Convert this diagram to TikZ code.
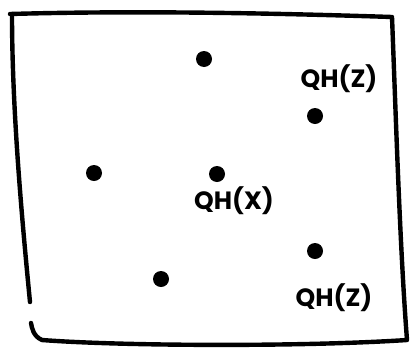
\documentclass[tikz,border=0pt]{standalone}
\usepackage{fontspec}
\setsansfont{Poppins}
\usetikzlibrary{positioning}

\begin{document}
\begin{tikzpicture}[
      x=1pt, y=-1pt,
      pt/.style={circle, fill=black, inner sep=0pt, minimum size=16pt},
      lbl/.style={font=\sffamily\bfseries\fontsize{25}{25}\selectfont, inner sep=0pt},
      frame/.style={line width=4.4pt, line cap=round, line join=round}
    ]
    \useasboundingbox (0,0) rectangle (419,351);
    % hand drawn frame
    \draw[frame] (10,14) .. controls (150,10) and (300,14) .. (392,17)
                 .. controls (396,120) and (400,250) .. (407,340)
                 .. controls (300,347) and (120,346) .. (42,340)
                 .. controls (33,336) and (32,328) .. (31,323);
    \draw[frame] (12,14) .. controls (12,110) and (22,220) .. (30,302);
    \node[pt] (top) at (204,59) {};
    \node[pt] (zone) at (315,116) {};
    \node[pt] (left) at (94,173) {};
    \node[pt] (mid) at (217,174) {};
    \node[pt] (ztwo) at (315,251) {};
    \node[pt] (low) at (161,279) {};
    \node[lbl] (qhza) at (339,79) {QH(Z)};
    \node[lbl] (qhx) at (234,201) {QH(X)};
    \node[lbl] (qhzb) at (334,298) {QH(Z)};
  \end{tikzpicture}
\end{document}
